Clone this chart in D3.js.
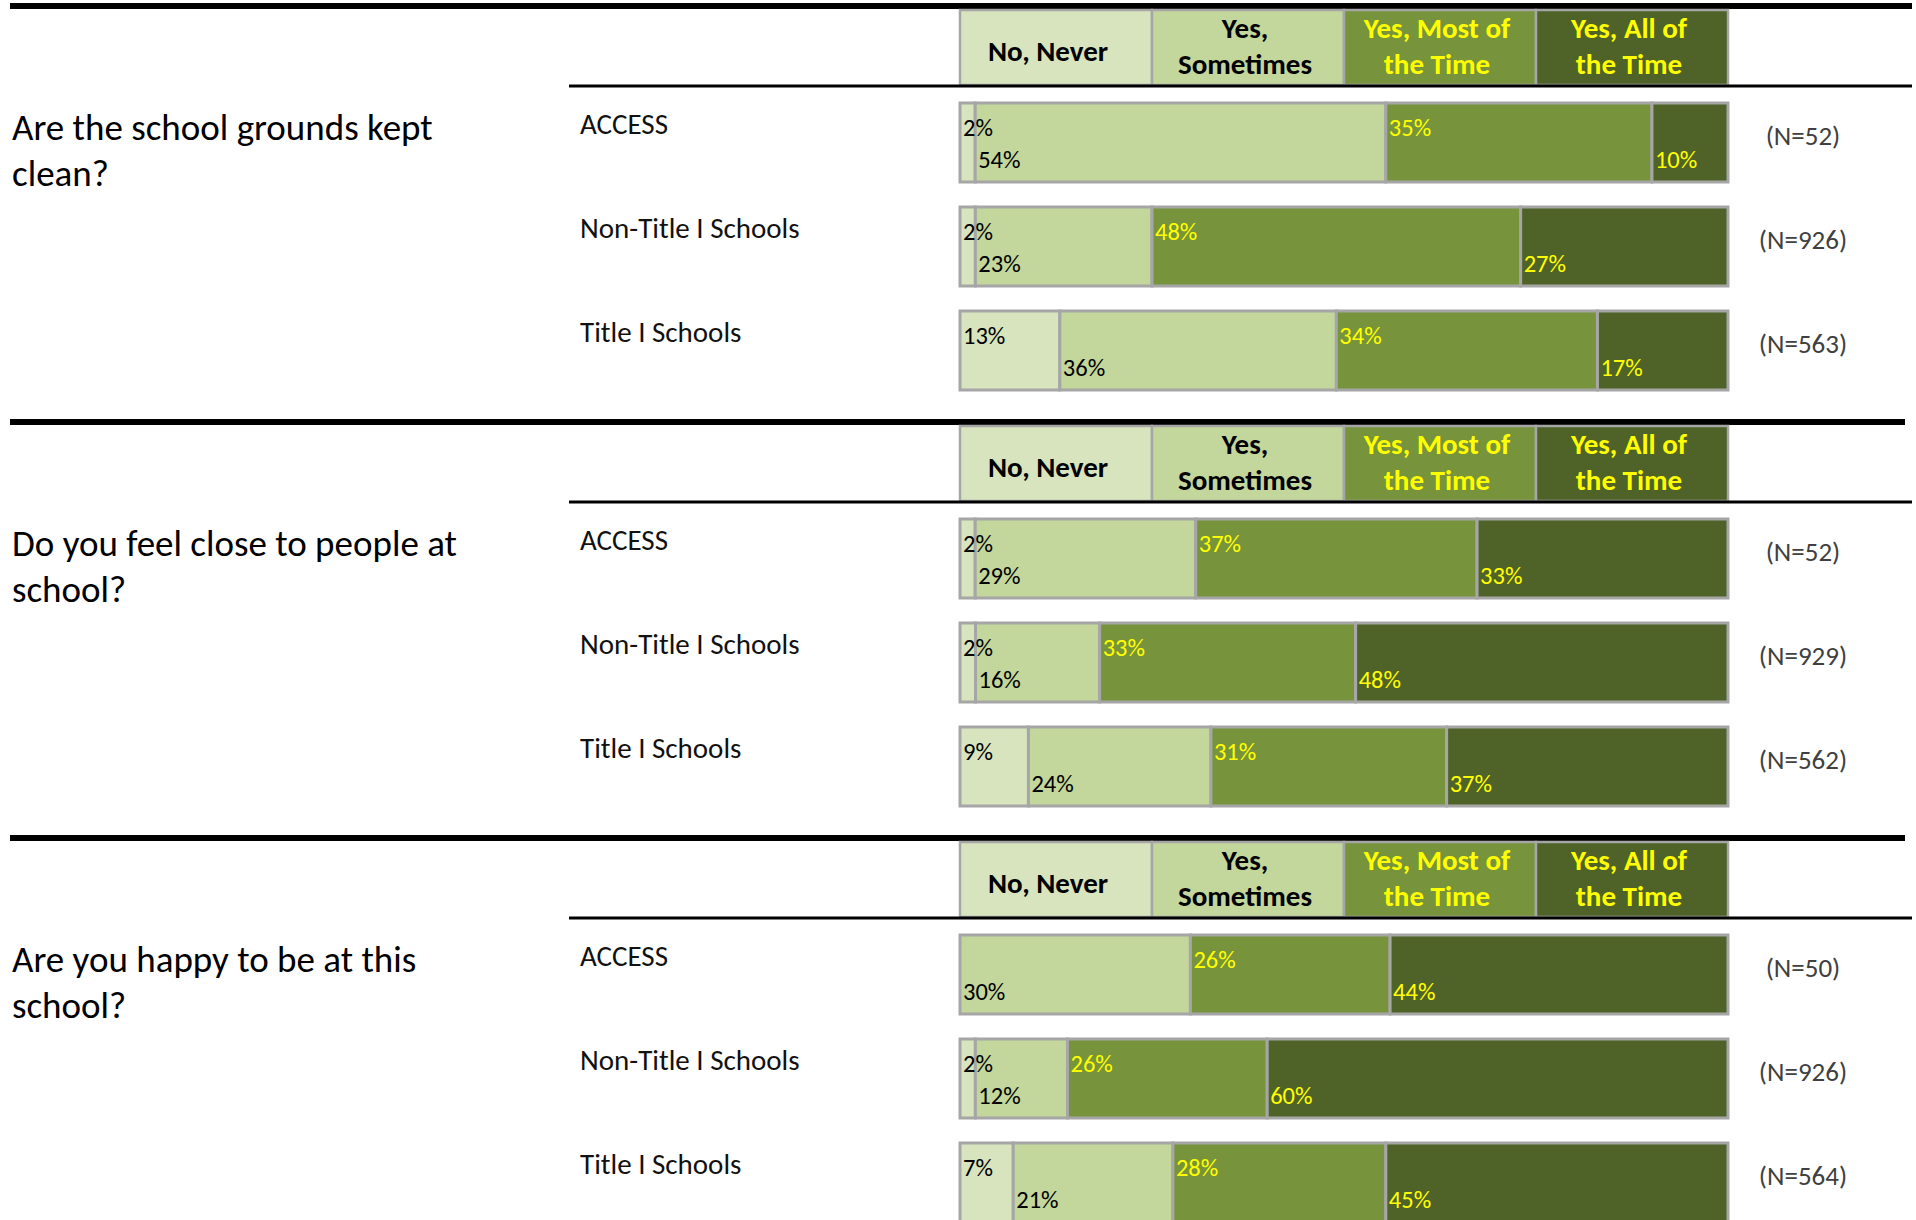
<!DOCTYPE html>
<html>
<head>
<meta charset="utf-8">
<script src="https://cdn.jsdelivr.net/npm/d3@7"></script>
<style>
  body { margin: 0; background: #fff; }
  svg { display: block; font-family: Carlito, Calibri, Lato, sans-serif; }
</style>
</head>
<body>
<div id="chart"></div>
<script>
// answer categories, left to right
var categories = ["No, Never", "Yes, Sometimes", "Yes, Most of the Time", "Yes, All of the Time"];
var headerLines = [["No, Never"], ["Yes,", "Sometimes"], ["Yes, Most of", "the Time"], ["Yes, All of", "the Time"]];
var groups = ["ACCESS", "Non-Title I Schools", "Title I Schools"];

var questions = [
  ["Are the school grounds kept", "clean?"],
  ["Do you feel close to people at", "school?"],
  ["Are you happy to be at this", "school?"]
];

// percent per category, one row per group
var cleanValues = [[2, 54, 35, 10], [2, 23, 48, 27], [13, 36, 34, 17]];
var closeValues = [[2, 29, 37, 33], [2, 16, 33, 48], [9, 24, 31, 37]];
var happyValues = [[0, 30, 26, 44], [2, 12, 26, 60], [7, 21, 28, 45]];

var cleanN = [52, 926, 563];
var closeN = [52, 929, 562];
var happyN = [50, 926, 564];

var sections = [
  { lines: questions[0], values: cleanValues, n: cleanN },
  { lines: questions[1], values: closeValues, n: closeN },
  { lines: questions[2], values: happyValues, n: happyN }
];

var fills = ["#D7E4BD", "#C3D69B", "#77933C", "#4F6228"];
var textColors = ["#000", "#000", "#FFFF00", "#FFFF00"];
var border = "#A6A6A6";

var width = 1916, height = 1220;
var sectionStep = 416;

var svg = d3.select("#chart")
  .append("svg")
  .attr("width", width)
  .attr("height", height);

var xHead = d3.scaleBand().domain(categories).range([960, 1728]);
var y = d3.scaleBand().domain(groups).range([103, 390]).paddingInner(25 / 104).paddingOuter(0);

sections.forEach((sec, si) => {
  var g = svg.append("g").attr("transform", "translate(0," + (si * sectionStep) + ")");

  // thick rule above section
  g.append("line")
    .attr("x1", 10).attr("x2", si === 0 ? 1912 : 1905)
    .attr("y1", 6).attr("y2", 6)
    .attr("stroke", "#000").attr("stroke-width", 6);

  // header cells
  var head = g.selectAll(".head")
    .data(categories)
    .enter()
    .append("g")
    .attr("class", "head");

  head.append("rect")
    .attr("x", d => xHead(d))
    .attr("y", 10)
    .attr("width", xHead.bandwidth())
    .attr("height", 75)
    .attr("fill", (d, i) => fills[i])
    .attr("stroke", border)
    .attr("stroke-width", 2.5);

  head.each(function (d, i) {
    var lines = headerLines[i];
    var t = d3.select(this).append("text")
      .attr("text-anchor", "middle")
      .attr("font-weight", "bold")
      .attr("font-size", 29)
      .attr("fill", i < 2 ? "#000" : "#FFFF00");
    lines.forEach((ln, li) => {
      t.append("tspan")
        .attr("x", xHead(d) + xHead.bandwidth() / 2 + (i === 0 ? -8 : -3))
        .attr("y", lines.length === 1 ? 61 : 38 + li * 36)
        .text(ln);
    });
  });

  // rule under header
  g.append("line")
    .attr("x1", 569).attr("x2", 1912)
    .attr("y1", 86).attr("y2", 86)
    .attr("stroke", "#000").attr("stroke-width", 3);

  // question text
  var q = g.append("text")
    .attr("font-size", 37)
    .attr("fill", "#000");
  sec.lines.forEach((ln, li) => {
    q.append("tspan").attr("x", 12).attr("y", 140 + li * 46).text(ln);
  });

  // rows
  groups.forEach((grp, gi) => {
    var vals = sec.values[gi];
    var total = d3.sum(vals);
    var x = d3.scaleLinear().domain([0, total]).range([960, 1728]);
    var starts = d3.cumsum([0].concat(vals.slice(0, -1)));
    var segs = vals.map((v, i) => ({ v: v, s: starts[i], i: i })).filter(d => d.v > 0);
    var top = y(grp);

    g.append("text")
      .attr("x", 580)
      .attr("y", top + 31)
      .attr("font-size", 29)
      .attr("fill", "#111")
      .text(grp);

    var row = g.append("g");
    row.selectAll("rect")
      .data(segs)
      .enter()
      .append("rect")
      .attr("x", d => x(d.s))
      .attr("y", top)
      .attr("width", d => x(d.s + d.v) - x(d.s))
      .attr("height", y.bandwidth())
      .attr("fill", d => fills[d.i])
      .attr("stroke", border)
      .attr("stroke-width", 3);

    row.selectAll("text")
      .data(segs)
      .enter()
      .append("text")
      .attr("x", d => x(d.s) + 3)
      .attr("y", d => top + (d.i % 2 === 0 ? 33 : 65))
      .attr("font-size", 24.5)
      .attr("fill", d => textColors[d.i])
      .text(d => d.v + "%");

    g.append("text")
      .attr("x", 1803)
      .attr("y", top + 42)
      .attr("text-anchor", "middle")
      .attr("font-size", 27)
      .attr("fill", "#404040")
      .text("(N=" + sec.n[gi] + ")");
  });
});
</script>
</body>
</html>
